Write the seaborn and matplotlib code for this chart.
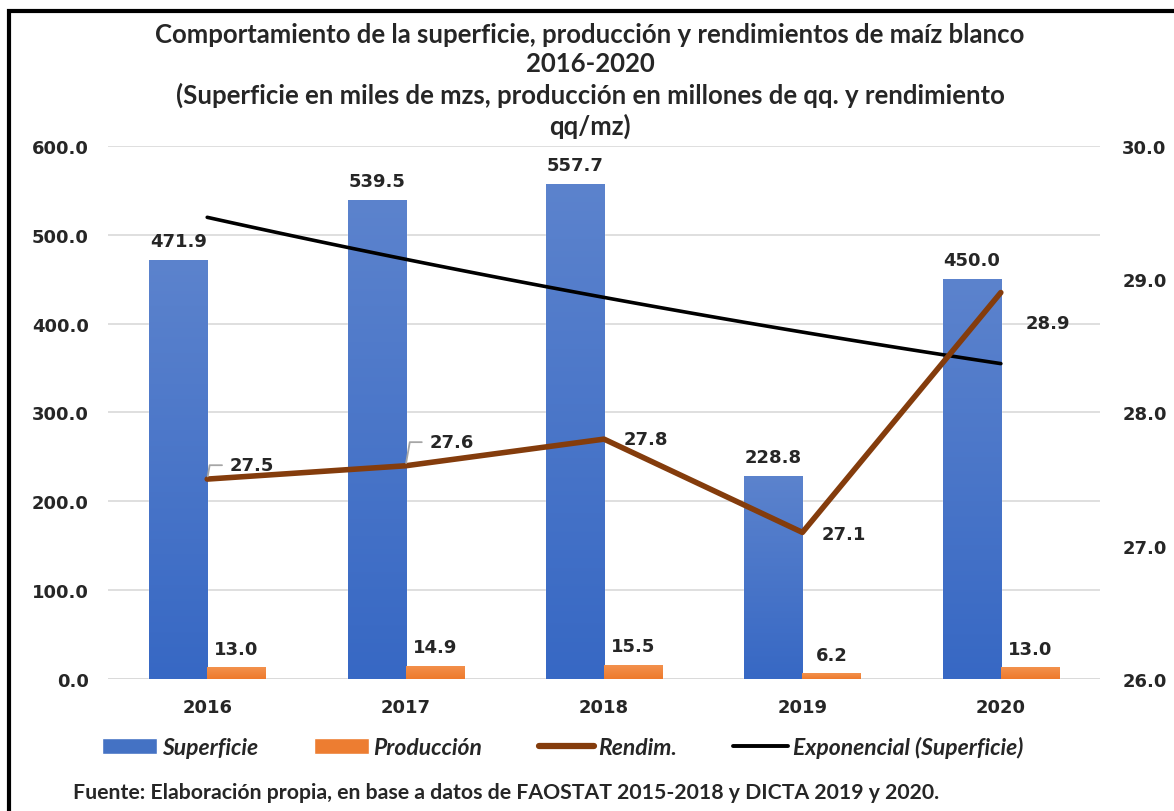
import numpy as np
import pandas as pd
import seaborn as sns
import matplotlib.pyplot as plt
from matplotlib.patches import Patch, Rectangle
from matplotlib.lines import Line2D
from matplotlib.colors import LinearSegmentedColormap

# Datos
years = ["2016", "2017", "2018", "2019", "2020"]
superficie = [471.9, 539.5, 557.7, 228.8, 450.0]
produccion = [13.0, 14.9, 15.5, 6.2, 13.0]
rendim = [27.5, 27.6, 27.8, 27.1, 28.9]

sns.set_style("white")
plt.rcParams["font.family"] = ["DejaVu Sans"]

df = pd.DataFrame({
    "Año": years * 2,
    "Valor": superficie + produccion,
    "Serie": ["Superficie"] * 5 + ["Producción"] * 5,
})

blue = "#4472C4"
orange = "#ED7D31"
brown = "#843C0C"

fig = plt.figure(figsize=(11.74, 8.12), dpi=100)
ax = fig.add_axes([0.092, 0.1626, 0.845, 0.6564])

sns.barplot(data=df, x="Año", y="Valor", hue="Serie", palette=[blue, orange],
            width=0.585, ax=ax, legend=False, zorder=2)

# degradado en las barras
grads = {
    0: LinearSegmentedColormap.from_list("b", ["#3768C4", "#5C83CD"]),
    1: LinearSegmentedColormap.from_list("o", ["#EE7A2C", "#F3914D"]),
}
grad = np.linspace(0, 1, 256).reshape(-1, 1)
for i, cont in enumerate(ax.containers):
    for p in cont.patches:
        x0, y0 = p.get_x(), p.get_y()
        x1, y1 = x0 + p.get_width(), y0 + p.get_height()
        im = ax.imshow(grad, extent=[x0, x1, y0, y1], origin="lower", aspect="auto",
                       cmap=grads[i], zorder=2.1)
        im.set_clip_path(p)
    ax.bar_label(cont, labels=[f"{v:.1f}" for v in cont.datavalues], padding=7,
                 fontsize=13, fontweight="bold", zorder=5)

ax.set_xlim(-0.5, 4.5)
ax.set_ylim(0, 600)
ax.set_yticks(np.arange(0, 601, 100))
ax.set_yticklabels([f"{v:.1f}" for v in np.arange(0, 601, 100)])
ax.yaxis.grid(True, color="#D9D9D9", linewidth=1.2, zorder=0)
ax.set_axisbelow(True)
for s in ax.spines.values():
    s.set_visible(False)
ax.axhline(0, color="#D9D9D9", linewidth=1.2, zorder=1)
ax.set_xlabel("")
ax.set_ylabel("")
ax.tick_params(axis="both", length=0, labelsize=13, pad=14)
for t in ax.get_xticklabels() + ax.get_yticklabels():
    t.set_fontweight("bold")

# tendencia exponencial de la superficie
xs = np.arange(len(years))
b, a = np.polyfit(xs, np.log(superficie), 1)
xt = np.linspace(0, 4, 60)
sns.lineplot(x=xt, y=np.exp(a + b * xt), color="black", linewidth=2.6, ax=ax, zorder=4)

# rendimiento en eje secundario
ax2 = ax.twinx()
sns.lineplot(x=xs, y=rendim, color=brown, linewidth=4, ax=ax2, zorder=3,
             solid_capstyle="round")
ax2.set_ylim(26, 30)
ax2.set_yticks([26, 27, 28, 29, 30])
ax2.set_yticklabels([f"{v:.1f}" for v in [26, 27, 28, 29, 30]])
ax2.tick_params(axis="y", length=0, labelsize=13, pad=16)
for t in ax2.get_yticklabels():
    t.set_fontweight("bold")
for s in ax2.spines.values():
    s.set_visible(False)
ax2.set_ylabel("")
ax2.set_xlim(-0.5, 4.5)

offsets = [(32, 10), (33, 17), (30, 0), (30, -1), (34, -22)]
for i, (v, off) in enumerate(zip(rendim, offsets)):
    kw = {}
    if i < 2:
        kw["arrowprops"] = dict(arrowstyle="-", color="#A6A6A6", lw=1.3,
                                shrinkA=3, shrinkB=2, relpos=(0, 0.5),
                                connectionstyle="angle,angleA=0,angleB=80,rad=0")
    ax2.annotate(f"{v:.1f}", (xs[i], v), xytext=off, textcoords="offset points",
                 ha="center", va="center", fontsize=13, fontweight="bold",
                 zorder=6, **kw)

# título
fig.text(0.5026, 0.972,
         "Comportamiento de la superficie, producción y rendimientos de maíz blanco\n"
         "2016-2020\n"
         "(Superficie en miles de mzs, producción en millones de qq. y rendimiento\n"
         "qq/mz)",
         ha="center", va="top", fontsize=18.5, fontweight="bold",
         family="Lato", linespacing=1.28)

# leyenda
handles = [
    Patch(facecolor=blue),
    Patch(facecolor=orange),
    Line2D([0], [0], color=brown, linewidth=4.5),
    Line2D([0], [0], color="black", linewidth=2.8),
]
labels = ["Superficie", "Producción", "Rendim.", "Exponencial (Superficie)"]
fig.legend(handles, labels, loc="center left", bbox_to_anchor=(0.087, 0.079),
           ncol=4, frameon=False, handlelength=2.4, handleheight=0.7,
           handletextpad=0.2, columnspacing=2.45, borderaxespad=0, borderpad=0,
           prop={"family": "Lato", "weight": "bold", "style": "italic", "size": 16.5})

fig.text(0.062, 0.023,
         "Fuente: Elaboración propia, en base a datos de FAOSTAT 2015-2018 y DICTA 2019 y 2020.",
         ha="left", va="center", fontsize=15.3, fontweight="bold", family="Lato")

# marco
fig.add_artist(Rectangle((0.0075, -0.1), 1.2, 1.085, transform=fig.transFigure,
                         fill=False, edgecolor="black", linewidth=3))

fig.savefig("out.png", dpi=100)
